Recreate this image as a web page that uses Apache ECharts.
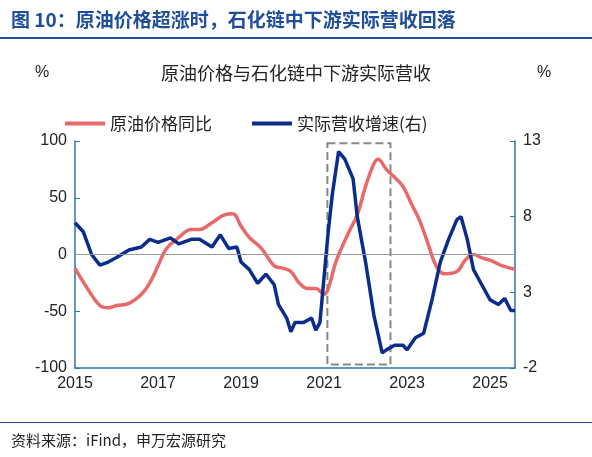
<!DOCTYPE html><html><head><meta charset="utf-8"><script src="https://cdn.jsdelivr.net/npm/echarts@6/dist/echarts.min.js"></script>
<style>body{margin:0;background:#fff}#c{width:592px;height:457px}</style></head><body><div id="c"></div><script>
const oilX=[2015.0,2015.3,2015.6,2015.8,2016.0,2016.3,2016.6,2016.8,2017.0,2017.2,2017.5,2017.8,2018.0,2018.3,2018.6,2018.8,2019.0,2019.2,2019.5,2019.8,2020.0,2020.2,2020.4,2020.6,2020.8,2021.0,2021.1,2021.3,2021.6,2021.8,2022.0,2022.2,2022.3,2022.5,2022.7,2022.9,2023.1,2023.3,2023.5,2023.7,2023.9,2024.2,2024.4,2024.6,2024.8,2025.0,2025.3,2025.6];
const oilY=[-12,-30,-45,-47,-45,-43,-35,-25,-10,5,15,22,22,28,35,36,25,15,5,-10,-12,-15,-25,-30,-30,-35,-30,-5,20,35,60,80,84,75,68,60,45,30,10,-10,-17,-15,-5,0,-3,-5,-10,-13];
const revX=[2015.0,2015.1,2015.2,2015.4,2015.6,2015.8,2016.0,2016.3,2016.6,2016.8,2017.0,2017.3,2017.5,2017.8,2018.0,2018.3,2018.5,2018.7,2018.9,2019.0,2019.2,2019.4,2019.6,2019.8,2019.9,2020.1,2020.2,2020.3,2020.5,2020.7,2020.8,2020.9,2021.0,2021.1,2021.2,2021.35,2021.5,2021.7,2021.8,2022.0,2022.2,2022.4,2022.5,2022.7,2022.9,2023.0,2023.2,2023.4,2023.6,2023.8,2024.0,2024.2,2024.3,2024.45,2024.6,2024.8,2025.0,2025.2,2025.35,2025.5,2025.6];
const revY=[7.6,7.3,7,5.5,4.8,5,5.3,5.8,6.0,6.5,6.3,6.6,6.2,6.5,6.5,6.0,6.8,5.9,6.0,5.0,4.5,3.6,4.2,3.5,2.2,1.3,0.4,1.0,1.0,1.3,0.5,1.0,4,7,9.5,12.3,11.8,10.5,8,5,1.5,-1,-0.8,-0.5,-0.5,-0.8,0,0.3,2.5,5,6.5,7.8,8.0,6.5,4.5,3.5,2.5,2.2,2.6,1.8,1.8];
const leftTicks=[-100,-50,0,50,100], rightTicks=[-2,3,8,13], xTicks=[2015,2017,2019,2021,2023,2025];
const z=(a,b)=>a.map((v,i)=>[v,b[i]]);
const ax='#2E75B6', font='"Noto Sans CJK SC",sans-serif';
const ch=echarts.init(document.getElementById('c'));
ch.setOption({animation:false,
title:[{text:'图 10：原油价格超涨时，石化链中下游实际营收回落',left:6,top:5,textStyle:{color:'#1F4E9A',fontSize:19,fontWeight:'bold',fontFamily:font}},
{text:'原油价格与石化链中下游实际营收',left:'center',top:59,textStyle:{color:'#222',fontSize:18,fontWeight:'normal',fontFamily:font}},
{text:'%',left:30,top:60,textStyle:{color:'#222',fontSize:16,fontWeight:'normal'}},
{text:'%',left:532,top:60,textStyle:{color:'#222',fontSize:16,fontWeight:'normal'}},
{text:'资料来源：iFind，申万宏源研究',left:6,top:428,textStyle:{color:'#222',fontSize:15,fontWeight:'normal',fontFamily:font}}],
graphic:[{type:'rect',shape:{x:0,y:37,width:592,height:2},style:{fill:'#1F4E9A'}},
{type:'rect',shape:{x:0,y:422,width:592,height:1},style:{fill:'#1F4E9A'}}],
legend:{top:110,left:60,itemGap:40,itemWidth:40,itemHeight:4,icon:'rect',textStyle:{fontSize:17,color:'#222',fontFamily:font},data:['原油价格同比','实际营收增速(右)']},
grid:{left:75,right:77,top:141,bottom:89},
xAxis:{type:'value',min:2015,max:2025.6,interval:2,axisLine:{onZero:false,lineStyle:{color:ax,width:1.5}},axisTick:{show:false},splitLine:{show:false},
axisLabel:{fontSize:16,color:'#222',showMaxLabel:false,formatter:v=>xTicks.includes(v)?String(v):''}},
yAxis:[{type:'value',min:-100,max:100,interval:50,axisLine:{show:true,lineStyle:{color:ax,width:1.5}},axisTick:{show:true,inside:true,lineStyle:{color:ax}},splitLine:{show:false},axisLabel:{fontSize:16,color:'#222'}},
{type:'value',min:-2,max:13,interval:5,axisLine:{show:true,lineStyle:{color:ax,width:1.5}},axisTick:{show:true,inside:true,lineStyle:{color:ax}},splitLine:{show:false},axisLabel:{fontSize:16,color:'#222'}}],
series:[{name:'原油价格同比',type:'line',smooth:0.4,showSymbol:false,data:z(oilX,oilY),lineStyle:{color:'#E8696A',width:3.5},itemStyle:{color:'#E8696A'},
markLine:{silent:true,symbol:'none',label:{show:false},lineStyle:{color:'#999',type:'solid',width:1},data:[{yAxis:0}]},
markArea:{silent:true,itemStyle:{color:'transparent',borderColor:'#888',borderType:'dashed',borderWidth:2},data:[[{coord:[2021.08,98]},{coord:[2022.6,-97]}]]}},
{name:'实际营收增速(右)',type:'line',yAxisIndex:1,showSymbol:false,data:z(revX,revY),lineStyle:{color:'#0A2D8C',width:3.5},itemStyle:{color:'#0A2D8C'}}]});
</script></body></html>
